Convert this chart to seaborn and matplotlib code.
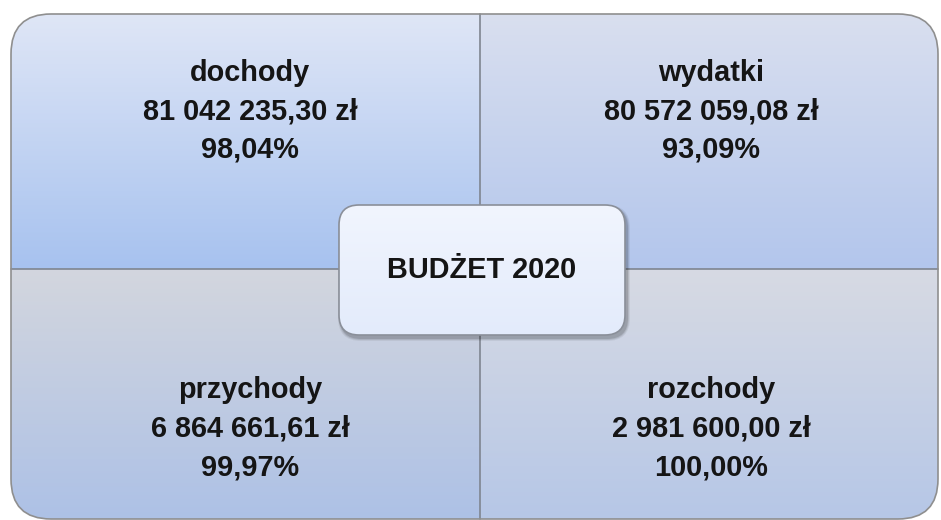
import numpy as np
import seaborn as sns
import matplotlib.pyplot as plt
from matplotlib.patches import FancyBboxPatch

# dane
nazwy = ['dochody', 'wydatki', 'przychody', 'rozchody']
kwoty = ['81 042 235,30 zł', '80 572 059,08 zł', '6 864 661,61 zł', '2 981 600,00 zł']
procenty = ['98,04%', '93,09%', '99,97%', '100,00%']
tytul = 'BUDŻET 2020'

# kolory gradientu (góra -> dół) dla każdej ćwiartki
gradienty = [('#dfe6f6', '#a7c2ef'),
             ('#d9dfef', '#b3c6ec'),
             ('#d3d6de', '#adc1e6'),
             ('#d7dae3', '#b6c7e7')]

sns.set_theme(style="white")
plt.rcParams['font.family'] = ['Liberation Sans', 'DejaVu Sans']

fig = plt.figure(figsize=(9.41, 5.2), dpi=100)
ax = fig.add_axes([0, 0, 1, 1])
ax.set_xlim(0, 941)
ax.set_ylim(520, 0)
ax.axis('off')

# zewnętrzny kształt
x0, x1, y0, y1 = 11, 938, 14, 519
xm, ym = 480, 269
r = 40
obrys = FancyBboxPatch((x0 + r, y0 + r), x1 - x0 - 2 * r, y1 - y0 - 2 * r,
                       boxstyle=f"round,pad={r},rounding_size={r}",
                       facecolor='none', edgecolor='#8f8f8f', lw=1.2, zorder=5)
ax.add_patch(obrys)

cwiartki = [(x0, xm, y0, ym), (xm, x1, y0, ym), (x0, xm, ym, y1), (xm, x1, ym, y1)]
for (a, b, c, d), (g1, g2) in zip(cwiartki, gradienty):
    cmap = sns.blend_palette([g1, g2], n_colors=256, as_cmap=True)
    grad = np.linspace(0, 1, 256).reshape(-1, 1)
    im = ax.imshow(grad, cmap=cmap, extent=(a, b, d, c), aspect='auto', zorder=1)
    im.set_clip_path(obrys)

# linie podziału
ax.plot([xm, xm], [y0, y1], color='#7f8590', lw=1.2, zorder=2)
ax.plot([x0, x1], [ym, ym], color='#7f8590', lw=1.2, zorder=2)

# teksty w ćwiartkach
srodki = [(250, 73), (711, 73), (250, 390), (711, 390)]
for (cx, cy), n, k, p in zip(srodki, nazwy, kwoty, procenty):
    for i, t in enumerate([n, k, p]):
        ax.text(cx, cy + i * 38.5, t, ha='center', va='center', fontsize=20.8,
                fontweight='bold', color='#151515', zorder=6)

# środkowe pole z cieniem (miękki cień z kilku warstw)
bx0, bx1, by0, by1 = 339, 625, 205, 335
rr = 20
for k, al in [(6, 0.06), (4, 0.09), (2, 0.12)]:
    cien = FancyBboxPatch((bx0 + rr + 2, by0 + rr + 3), bx1 - bx0 - 2 * rr, by1 - by0 - 2 * rr,
                          boxstyle=f"round,pad={rr + k / 2},rounding_size={rr + k / 2}",
                          facecolor='#000000', alpha=al, edgecolor='none', zorder=7)
    ax.add_patch(cien)
pole = FancyBboxPatch((bx0 + rr, by0 + rr), bx1 - bx0 - 2 * rr, by1 - by0 - 2 * rr,
                      boxstyle=f"round,pad={rr},rounding_size={rr}",
                      facecolor='none', edgecolor='#8a8f99', lw=1.2, zorder=9)
ax.add_patch(pole)
cmap_c = sns.blend_palette(['#f1f5fe', '#e3ebfb'], n_colors=256, as_cmap=True)
imc = ax.imshow(np.linspace(0, 1, 256).reshape(-1, 1), cmap=cmap_c,
                extent=(bx0, bx1, by1, by0), aspect='auto', zorder=8)
imc.set_clip_path(pole)
ax.text((bx0 + bx1) / 2, (by0 + by1) / 2, tytul, ha='center', va='center',
        fontsize=20.8, fontweight='bold', color='#151515', zorder=10)

fig.savefig('out.png', dpi=100)
